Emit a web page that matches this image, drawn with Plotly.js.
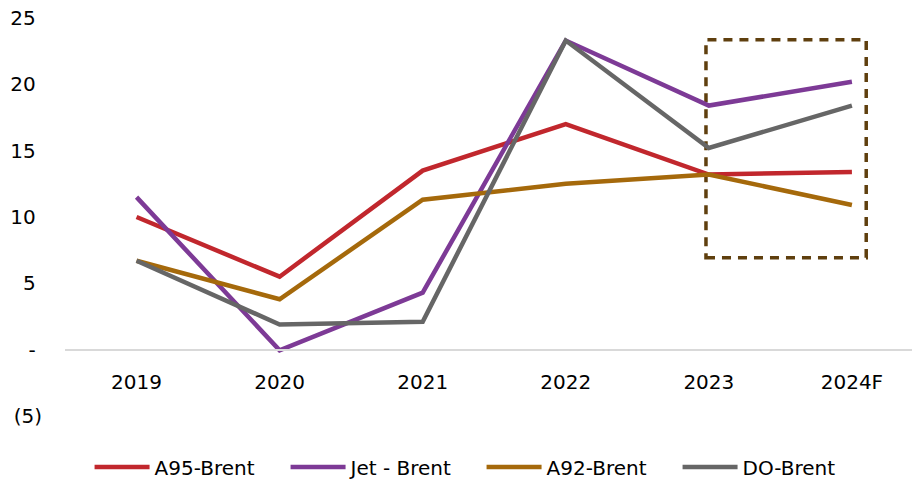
<!DOCTYPE html>
<html>
<head>
<meta charset="utf-8">
<script src="https://cdn.plot.ly/plotly-3.0.1.min.js"></script>
<style>
html,body{margin:0;padding:0;background:#fff;}
#chart{width:912px;height:483px;}
</style>
</head>
<body>
<div id="chart"></div>
<script>
// ---- data ----
const years = ["2019", "2020", "2021", "2022", "2023", "2024F"];
const a95Brent = [10.0, 5.5, 13.5, 17.0, 13.2, 13.4];
const jetBrent = [11.5, -0.05, 4.3, 23.3, 18.4, 20.2];
const a92Brent = [6.7, 3.8, 11.3, 12.5, 13.2, 10.9];
const doBrent  = [6.7, 1.9, 2.1, 23.3, 15.2, 18.4];
const seriesNames = ["A95-Brent", "Jet - Brent", "A92-Brent", "DO-Brent"];
const yTickVals = [-5, 0, 5, 10, 15, 20, 25];
const yTickText = ["(5)", "-\u00a0", "5\u00a0", "10\u00a0", "15\u00a0", "20\u00a0", "25\u00a0"];

// highlight box (forecast region) in data units
const boxX = [3.98, 5.10];
const boxY = [6.93, 23.36];

const colors = ["#C1272D", "#7D3A96", "#A5690B", "#666666"];
const allSeries = [a95Brent, jetBrent, a92Brent, doBrent];

const FONT = "DejaVu Sans, Verdana, sans-serif";
const yMin = -5, yMax = 25;

const traces = allSeries.map((s, i) => ({
  type: "scatter",
  mode: "lines",
  x: years,
  y: s,
  name: seriesNames[i],
  line: {color: colors[i], width: 4.5},
  hoverinfo: "x+y+name"
}));

const layout = {
  width: 912,
  height: 483,
  margin: {l: 65, r: 0, t: 18, b: 67},
  paper_bgcolor: "#ffffff",
  plot_bgcolor: "#ffffff",
  font: {family: FONT, size: 20, color: "#000000"},
  showlegend: true,
  legend: {
    orientation: "h",
    x: 0.029,
    xanchor: "left",
    yref: "container",
    y: 0.033,
    yanchor: "middle",
    font: {family: FONT, size: 20, color: "#000000"},
    entrywidth: 126,
    entrywidthmode: "pixels",
    itemwidth: 55,
    bgcolor: "rgba(0,0,0,0)"
  },
  xaxis: {
    type: "category",
    range: [-0.5, 5.42],
    anchor: "free",
    position: (0 - yMin) / (yMax - yMin),
    showline: true,
    linecolor: "#D9D9D9",
    linewidth: 2,
    showgrid: false,
    zeroline: false,
    ticks: "",
    ticklabelstandoff: 14,
    tickfont: {family: FONT, size: 20, color: "#000000"}
  },
  yaxis: {
    range: [yMin, yMax],
    tickvals: yTickVals,
    ticktext: yTickText,
    showgrid: false,
    zeroline: false,
    showline: false,
    ticks: "",
    ticklabelstandoff: 22,
    tickfont: {family: FONT, size: 20, color: "#000000"}
  },
  shapes: [{
    type: "rect",
    xref: "x",
    yref: "y",
    x0: boxX[0],
    x1: boxX[1],
    y0: boxY[0],
    y1: boxY[1],
    line: {color: "#5F3F0E", width: 3.5, dash: "9px,7px"},
    fillcolor: "rgba(0,0,0,0)",
    layer: "below"
  }]
};

Plotly.newPlot("chart", traces, layout, {displayModeBar: false, staticPlot: false});
</script>
</body>
</html>
